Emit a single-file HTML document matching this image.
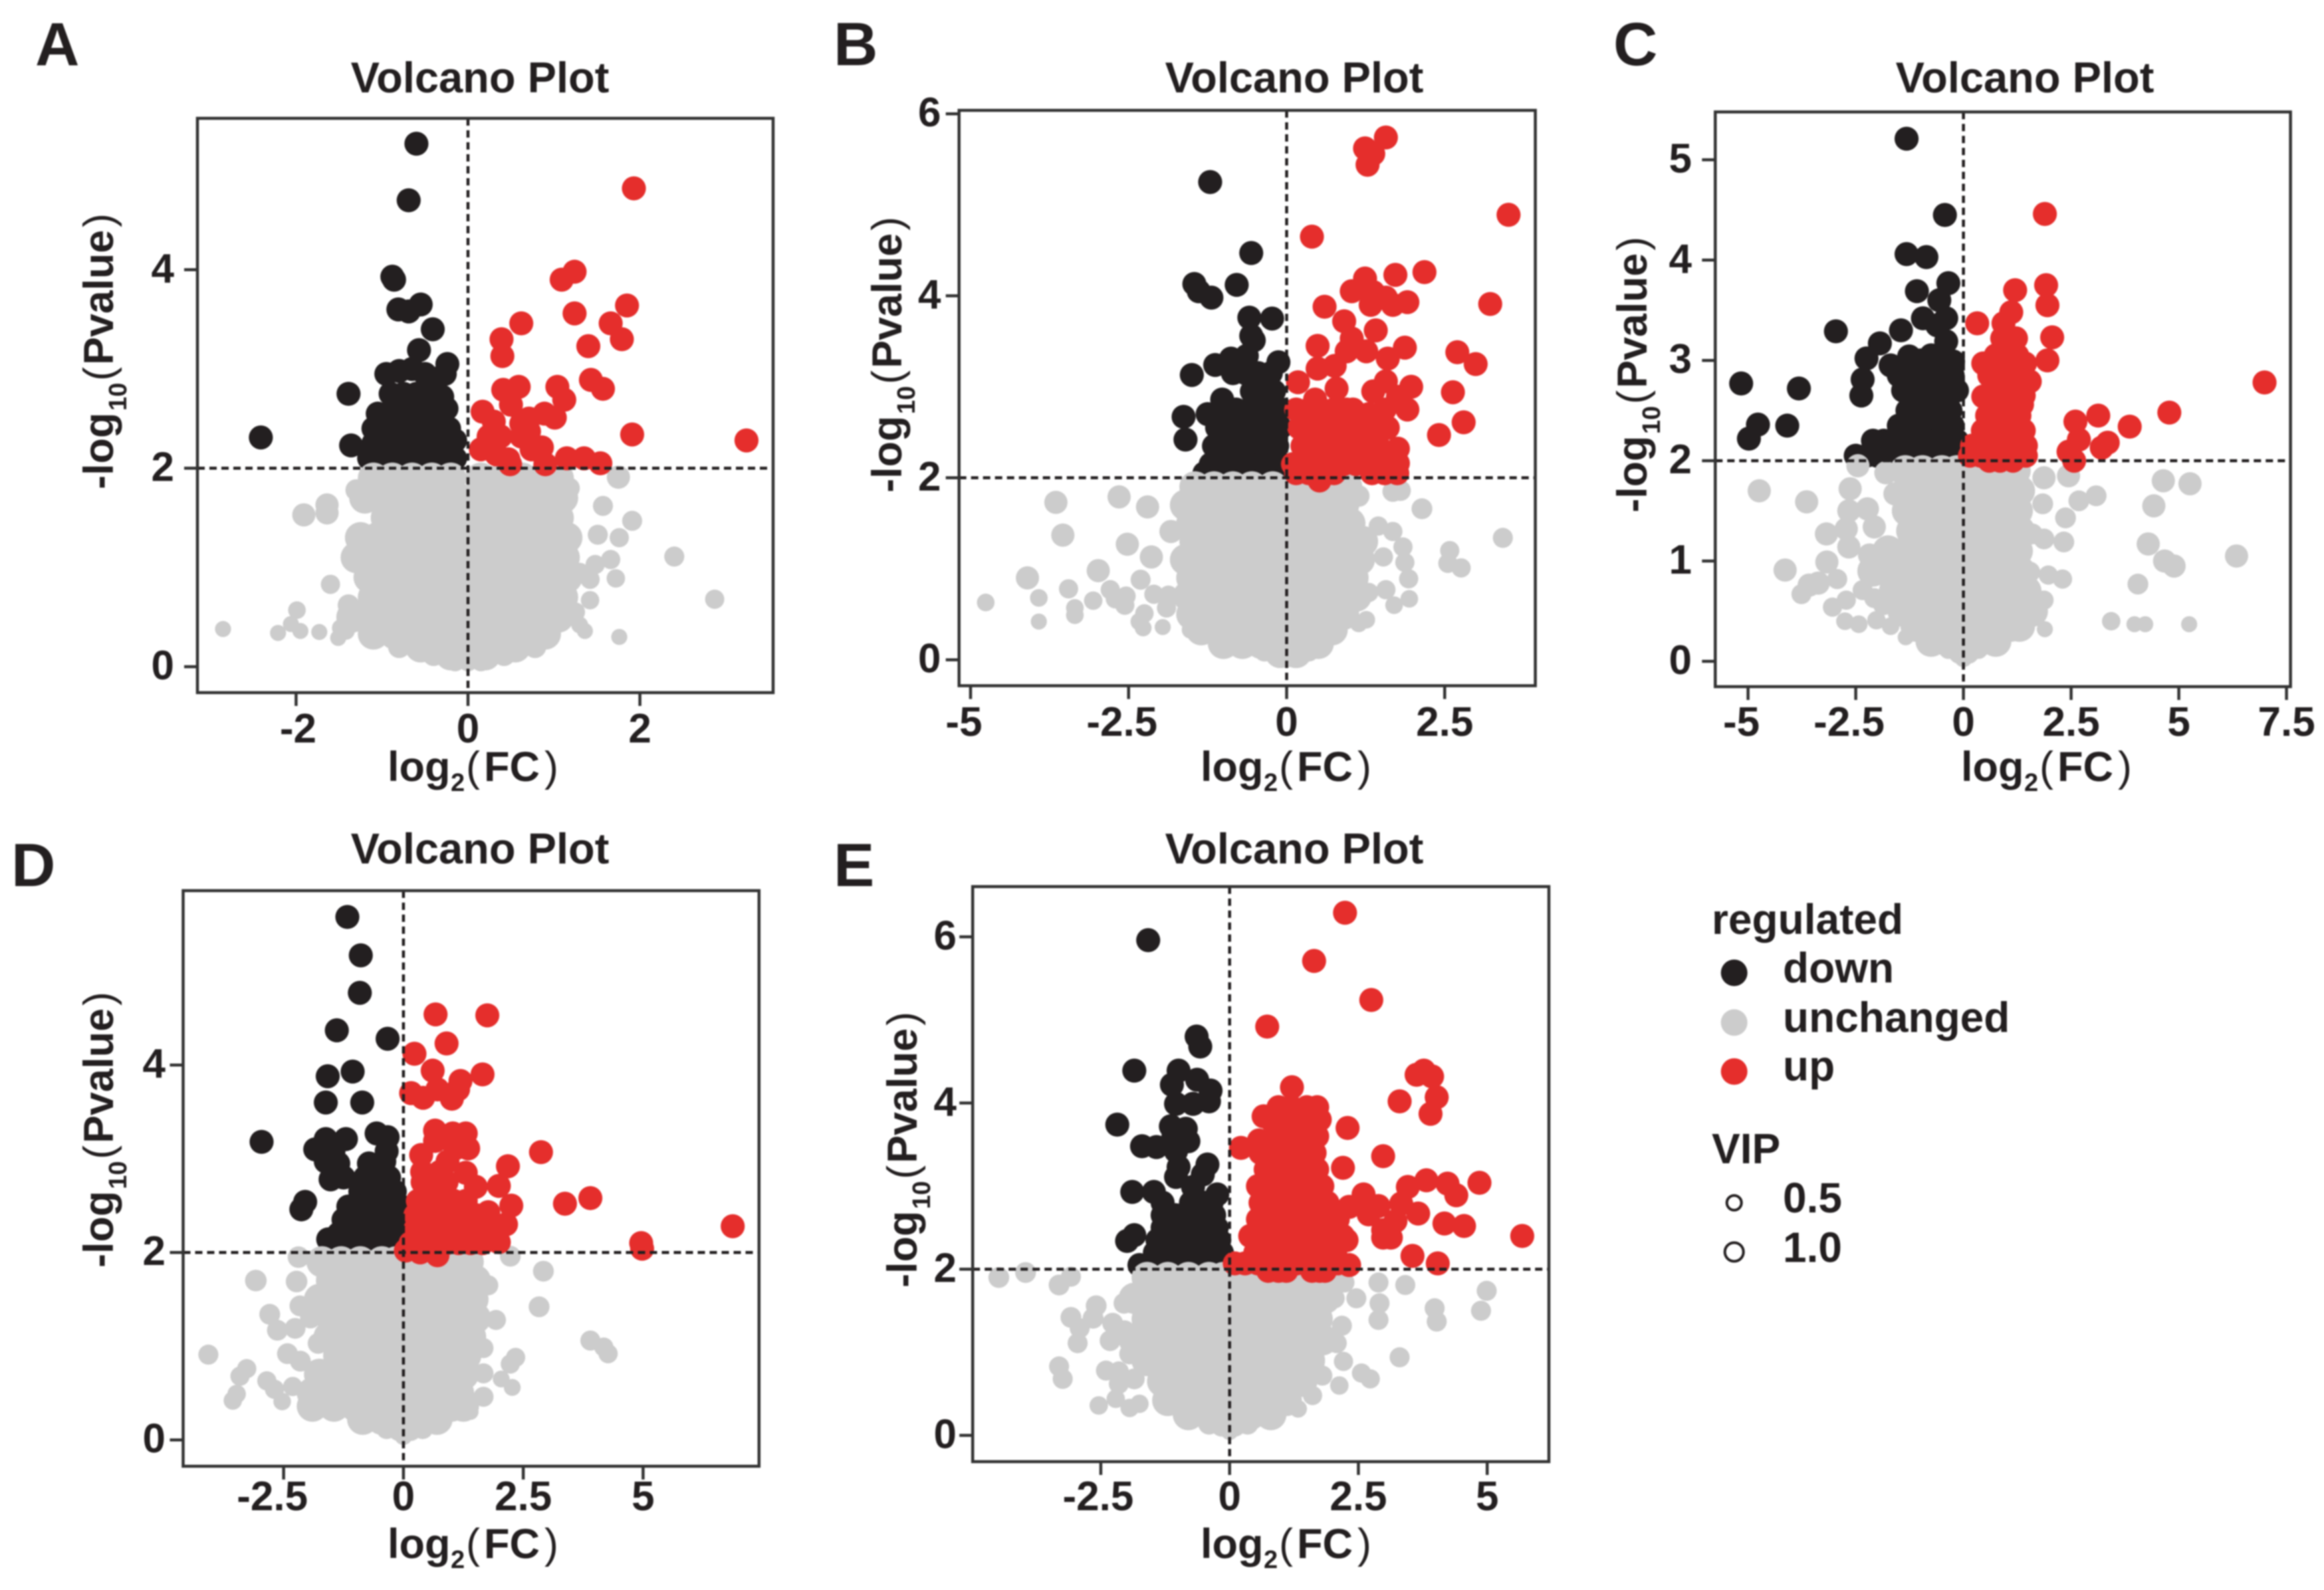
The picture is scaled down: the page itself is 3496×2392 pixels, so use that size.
<!DOCTYPE html>
<html lang="en">
<head>
<meta charset="utf-8">
<title>Volcano Plots</title>
<style>
html,body{margin:0;padding:0;background:#fff;width:3496px;height:2392px;overflow:hidden}
svg{display:block;filter:blur(1px)}
text{font-family:"Liberation Sans",sans-serif;font-weight:700;fill:#231f20}
.title{font-size:65px;text-anchor:middle}
.letter{font-size:92px}
.axt{font-size:63px}
.sub{font-size:38px}
.par{font-weight:400}
.tick{font-size:62px}
.leg{font-size:64px}
</style>
</head>
<body>
<svg id="fig" xmlns="http://www.w3.org/2000/svg" width="3496" height="2392" viewBox="0 0 3496 2392">
<rect width="3496" height="2392" fill="#fff"/>

<g id="panel-a"></g>
<g id="panel-b"></g>
<g id="panel-c"></g>
<g id="panel-d"></g>
<g id="panel-e"></g>

<text class="letter" x="53" y="98">A</text>
<text class="letter" x="1254" y="98">B</text>
<text class="letter" x="2427" y="98">C</text>
<text class="letter" x="17" y="1333">D</text>
<text class="letter" x="1254" y="1333">E</text>

<text class="title" x="722" y="139">Volcano Plot</text>
<text class="title" x="1947" y="139">Volcano Plot</text>
<text class="title" x="3046" y="139">Volcano Plot</text>
<text class="title" x="722" y="1299">Volcano Plot</text>
<text class="title" x="1947" y="1299">Volcano Plot</text>

<g transform="translate(583,1175)"><text class="axt" x="0" y="0">log</text><text class="sub" x="95" y="15">2</text><text class="axt par" x="118" y="0">(</text><text class="axt" x="145" y="0">FC</text><text class="axt par" x="236" y="0">)</text></g>
<g transform="translate(1806,1175)"><text class="axt" x="0" y="0">log</text><text class="sub" x="95" y="15">2</text><text class="axt par" x="118" y="0">(</text><text class="axt" x="145" y="0">FC</text><text class="axt par" x="236" y="0">)</text></g>
<g transform="translate(2950,1175)"><text class="axt" x="0" y="0">log</text><text class="sub" x="95" y="15">2</text><text class="axt par" x="118" y="0">(</text><text class="axt" x="145" y="0">FC</text><text class="axt par" x="236" y="0">)</text></g>
<g transform="translate(583,2344)"><text class="axt" x="0" y="0">log</text><text class="sub" x="95" y="15">2</text><text class="axt par" x="118" y="0">(</text><text class="axt" x="145" y="0">FC</text><text class="axt par" x="236" y="0">)</text></g>
<g transform="translate(1806,2344)"><text class="axt" x="0" y="0">log</text><text class="sub" x="95" y="15">2</text><text class="axt par" x="118" y="0">(</text><text class="axt" x="145" y="0">FC</text><text class="axt par" x="236" y="0">)</text></g>

<g transform="translate(170,736) rotate(-90)"><text class="axt" x="0" y="0">-log</text><text class="sub" x="118" y="20">10</text><text class="axt par" x="163" y="0">(</text><text class="axt" x="187" y="0">Pvalue</text><text class="axt par" x="394" y="0">)</text></g>
<g transform="translate(1356,741) rotate(-90)"><text class="axt" x="0" y="0">-log</text><text class="sub" x="118" y="20">10</text><text class="axt par" x="163" y="0">(</text><text class="axt" x="187" y="0">Pvalue</text><text class="axt par" x="394" y="0">)</text></g>
<g transform="translate(2477,771) rotate(-90)"><text class="axt" x="0" y="0">-log</text><text class="sub" x="118" y="20">10</text><text class="axt par" x="163" y="0">(</text><text class="axt" x="187" y="0">Pvalue</text><text class="axt par" x="394" y="0">)</text></g>
<g transform="translate(170,1907) rotate(-90)"><text class="axt" x="0" y="0">-log</text><text class="sub" x="118" y="20">10</text><text class="axt par" x="163" y="0">(</text><text class="axt" x="187" y="0">Pvalue</text><text class="axt par" x="394" y="0">)</text></g>
<g transform="translate(1379,1937) rotate(-90)"><text class="axt" x="0" y="0">-log</text><text class="sub" x="118" y="20">10</text><text class="axt par" x="163" y="0">(</text><text class="axt" x="187" y="0">Pvalue</text><text class="axt par" x="394" y="0">)</text></g>

<g>
<text class="leg" x="2575" y="1405">regulated</text>
<circle cx="2608.7" cy="1463.5" r="20" fill="#231f20"/>
<text class="leg" x="2682" y="1478">down</text>
<circle cx="2608.7" cy="1538.3" r="20" fill="#cccccc"/>
<text class="leg" x="2682" y="1552.5">unchanged</text>
<circle cx="2608.7" cy="1612" r="20" fill="#e52e2c"/>
<text class="leg" x="2682" y="1625.6">up</text>
<text class="leg" x="2575" y="1750">VIP</text>
<circle cx="2608.7" cy="1809.5" r="11" fill="none" stroke="#231f20" stroke-width="4"/>
<text class="leg" x="2682" y="1824">0.5</text>
<circle cx="2608.7" cy="1883.5" r="14" fill="none" stroke="#231f20" stroke-width="4"/>
<text class="leg" x="2682" y="1898.5">1.0</text>
</g>
</svg>

<script>
// ---- Panel A values: [log2FC, -log10P, optional VIP] ----
const aXTicks=[-2,0,2];
const aYTicks=[0,2,4];
const aDown=[[-.6,5.27],[-.69,4.7],[-.88,3.93],[-.86,3.9],[-.81,3.6],[-.69,3.58],[-.55,3.65],[-.41,3.4],[-.57,3.19],[-.24,3.05],[-.27,2.95],[-1.39,2.75],[-2.41,2.31],[-1.36,2.23],
[-.95,2.95],[-.8,2.98],[-.65,3],[-.5,2.95],[-.4,2.9],[-.9,2.75],[-.75,2.75],[-.6,2.75],[-.45,2.75],[-.3,2.72],
[-1.05,2.55],[-.9,2.55],[-.75,2.55],[-.6,2.55],[-.45,2.55],[-.3,2.55],[-.25,2.6],
[-1.1,2.4],[-.95,2.4],[-.8,2.4],[-.65,2.4],[-.5,2.4],[-.35,2.4],[-.22,2.4],
[-1.1,2.25],[-.95,2.25],[-.8,2.25],[-.65,2.25],[-.5,2.25],[-.35,2.25],[-.15,2.28],
[-1.15,2.1],[-1,2.1],[-.85,2.1],[-.7,2.1],[-.55,2.1],[-.4,2.1],[-.25,2.1],[-.15,2.1]];
const aGrayBody=[[-1.1,1.9],[-.88,1.9],[-.65,1.9],[-.42,1.9],[-.2,1.9],[.15,1.9],[.4,1.9],[.63,1.9],[.86,1.9],[1.05,1.9],
[-1.2,1.7],[-.97,1.7],[-.75,1.7],[-.52,1.7],[-.3,1.7],[-.12,1.7],[.2,1.7],[.5,1.7],[.75,1.7],[.98,1.7],[1.1,1.7],
[-.95,1.5],[-.75,1.5],[-.52,1.5],[-.3,1.5],[-.1,1.5],[.12,1.5],[.35,1.5],[.6,1.5],[.85,1.5],[1.05,1.5],
[-1.25,1.3],[-1.05,1.3],[-.85,1.3],[-.6,1.3],[-.4,1.3],[-.2,1.3],[-.1,1.3],[.15,1.3],[.3,1.3],[.55,1.3],[.8,1.3],[1.05,1.3],[1.15,1.3],
[-1.3,1.1],[-1.1,1.1],[-.9,1.1],[-.65,1.1],[-.42,1.1],[-.2,1.1],[.12,1.1],[.4,1.1],[.65,1.1],[.9,1.1],[1.12,1.1],
[-1.15,.9],[-.95,.9],[-.75,.9],[-.52,.9],[-.3,.9],[-.1,.9],[.12,.9],[.3,.9],[.55,.9],[.8,.9],[1.05,.9],[1.15,.9],
[-1.1,.7],[-.85,.7],[-.6,.7],[-.4,.7],[-.2,.7],[0,.7],[.2,.7],[.45,.7],[.7,.7],[.95,.7],[1.1,.7],
[-1.35,.5],[-1.15,.5],[-.9,.5],[-.7,.5],[-.5,.5],[-.3,.5],[-.1,.5],[.12,.5],[.35,.5],[.6,.5],[.85,.5],[1.05,.5],
[-1.1,.33],[-.85,.33],[-.6,.33],[-.4,.33],[-.2,.33],[0,.33],[.2,.33],[.4,.33],[.65,.33],[.9,.33],
[-.8,.2,1.4],[-.55,.2],[-.3,.2],[-.1,.2],[.1,.2],[.3,.2],[.55,.2],[.78,.2,1.4],[-.4,.12,1.4],[-.2,.12],[0,.12],[.2,.12],[.42,.12,1.4],[-.15,.05,1],[0,.05,1],[.15,.05,1]];
const aGrayOut=[[-1.91,1.53],[-1.64,1.63],[-1.64,1.55],[-1.6,.83,1],[-1.99,.57,.8],[-2.06,.43,.6],[-1.95,.36,.6],[-2.21,.34,.6],[-1.73,.35,.6],[-2.85,.38,.6],[-1.51,.29,.6],[-1.42,.36,.8],[-1.48,.39,.8],[-1.39,.62,1.3],[1.75,1.91],[1.57,1.62,1.1],[1.91,1.47,1.1],[1.51,1.33,1.1],[1.76,1.3,1],[2.4,1.11,1.1],[2.87,.68,1],[1.76,.3,.6],[1.36,.36,.6],[1.72,.89,.9],[1.42,.67,.9],[1.48,1.03,1],[1.66,1.08,1],[1.42,.88,1],[1.18,1.8,1.2],[-1.3,1.78,1.3],[1.3,.95,1],[1.25,.55,1],[1.3,.42,.7]];
const aUp=[[1.93,4.82],[1.24,3.98],[1.09,3.9],[1.85,3.64],[1.24,3.56],[1.66,3.46],[.62,3.46],[1.79,3.3],[.39,3.3],[.4,3.13],[1.4,3.23],[1.43,2.89],[1.57,2.8],[.59,2.82],[.41,2.79],[1.04,2.82],[1.12,2.69],[.5,2.64],[.17,2.57],[.3,2.47],[.89,2.55],[1.01,2.51],[.71,2.5],[1.91,2.34],[3.24,2.28],[.15,2.19],[.24,2.32],[.38,2.32],[.62,2.32],[.71,2.37],[.86,2.21],[.74,2.19],[.33,2.14],[.47,2.09],[.49,2.04],[.9,2.04],[1.15,2.1],[1.35,2.1],[1.54,2.05],[.62,2.45]];

// ---- Panel B values ----
const bXTicks=[-5,-2.5,0,2.5];
const bYTicks=[0,2,4,6];
const bDown=[[-1.21,5.25],[-.56,4.47],[-1.46,4.13],[-1.39,4.05],[-1.19,3.98],[-.79,4.12],[-.59,3.76],[-.23,3.75],[-.56,3.56],[-.52,3.51],[-1.5,3.13],[-1.13,3.24],[-.88,3.31],[-.63,3.34],[-.13,3.27],[-1.63,2.67],[-1.6,2.42],[-1.25,2.7],[-1.02,2.86],
[-.85,3.15],[-.65,3.15],[-.45,3.15],[-.25,3.15],[-.55,2.95],[-.38,2.95],[-.2,2.95],
[-1.05,2.75],[-.8,2.75],[-.6,2.75],[-.4,2.75],[-.2,2.75],[-.08,2.75],
[-1.1,2.55],[-.9,2.55],[-.7,2.55],[-.5,2.55],[-.3,2.55],[-.1,2.55],
[-1.15,2.35],[-.95,2.35],[-.75,2.35],[-.55,2.35],[-.35,2.35],[-.15,2.35],
[-1.2,2.15],[-1,2.15],[-.8,2.15],[-.6,2.15],[-.4,2.15],[-.2,2.15],[-.08,2.15],
[-1.3,2.05],[-1.1,2.05],[-.9,2.05],[-.7,2.05],[-.5,2.05],[-.3,2.05],[-.1,2.05]];
const bGrayBody=[[-1.45,1.9],[-1.15,1.9],[-.85,1.9],[-.55,1.9],[-.22,1.9],[.2,1.9],[.5,1.9],[.8,1.9],[.95,1.9],
[-1.6,1.7],[-1.3,1.7],[-1,1.7],[-.7,1.7],[-.4,1.7],[-.15,1.7],[.15,1.7],[.35,1.7],[.65,1.7],[.9,1.7],
[-1.5,1.5],[-1.2,1.5],[-.85,1.5],[-.55,1.5],[-.25,1.5],[.12,1.5],[.4,1.5],[.7,1.5],[1,1.5],
[-1.45,1.3],[-1.15,1.3],[-.85,1.3],[-.55,1.3],[-.3,1.3],[-.05,1.3],[.25,1.3],[.55,1.3],[.85,1.3],[1.2,1.3],
[-1.6,1.1],[-1.3,1.1],[-1,1.1],[-.7,1.1],[-.4,1.1],[-.1,1.1],[.2,1.1],[.5,1.1],[.8,1.1],[1.15,1.1],
[-1.5,.9],[-1.2,.9],[-.9,.9],[-.6,.9],[-.3,.9],[0,.9],[.3,.9],[.6,.9],[.9,.9],[1.05,.9],
[-1.55,.7],[-1.25,.7],[-.95,.7],[-.65,.7],[-.35,.7],[-.05,.7],[.25,.7],[.55,.7],[.85,.7],[1.1,.7],
[-1.5,.5],[-1.2,.5],[-.9,.5],[-.6,.5],[-.3,.5],[0,.5],[.3,.5],[.6,.5],[.9,.5],
[-1.35,.33],[-1.05,.33],[-.75,.33],[-.45,.33],[-.15,.33],[.15,.33],[.45,.33],[.72,.33],
[-1,.18],[-.7,.18],[-.4,.18],[-.1,.18],[.2,.18],[.5,.18],[-.35,.1,1.3],[-.1,.08],[.15,.08],[.35,.1,1.3],[0,.02,1]];
const bGrayOut=[[-3.65,1.73],[-2.65,1.79],[-2.2,1.68],[-3.54,1.37],[-2.52,1.27],[-1.83,1.41],[-2.14,1.13],[-2.98,.98],[-4.1,.9],[-3.45,.78,1],[-3.92,.68,.8],[-4.76,.63,.8],[-3.92,.42,.6],[-3.06,.65,.9],[-3.35,.57,.8],[-3.35,.49,.8],[-2.79,.77,1],[-2.71,.67,1],[-2.54,.7,1],[-2.56,.6,1],[-2.31,.88,1.1],[-2.1,.72,1],[-2.25,.51,.9],[-2.33,.42,.8],[-2.27,.35,.7],[-1.96,.36,.6],[-1.9,.57,1],[-1.87,.71,1],[-1.52,.33,.8],
[2.14,1.66,1.2],[1.68,1.85,1.2],[1.8,1.86,1.2],[1.14,1.8,1.3],[3.42,1.34,1.1],[2.58,1.2,1],[2.55,1.06,1],[2.76,1.01,1],[1.45,1.47,1],[1.68,1.41,1],[1.84,1.24,1],[1.53,1.13,1],[1.87,1.07,1],[1.93,.89,1],[1.57,.77,1],[1.3,.74,1],[1.7,.6,.8],[1.94,.67,.8],[1.14,.4,.8],[1.26,.44,.8]];
const bUp=[[1.57,5.74],[1.24,5.62],[1.37,5.56],[1.28,5.44],[3.51,4.89],[.4,4.65],[2.18,4.26],[1.72,4.23],[1.24,4.19],[1.03,4.05],[1.37,4.04],[3.22,3.91],[.6,3.88],[1.33,3.9],[1.68,3.9],[1.91,3.93],[1.57,3.98],[.91,3.72],[1.41,3.62],[.49,3.45],[1.03,3.53],[1.87,3.43],[1.26,3.39],[.95,3.39],[2.7,3.38],[2.99,3.25],[1.6,3.31],[.76,3.23],[.49,3.2],[.18,3.05],[2.63,2.94],[1.97,3],[1.57,3.06],[1.37,2.95],[1.76,2.89],[.79,2.98],[.45,2.86],[1.91,2.75],[2.8,2.61],[2.41,2.47],[1.76,2.32],[1.76,2.16],
[.15,2.75],[.35,2.75],[.55,2.75],[.75,2.75],[.95,2.75],[1.05,2.75],[1.3,2.7],[1.55,2.75],
[.2,2.55],[.4,2.55],[.6,2.55],[.8,2.55],[1,2.55],[1.2,2.55],[1.4,2.55],[1.6,2.55],
[.25,2.35],[.45,2.35],[.65,2.35],[.85,2.35],[1.05,2.35],[1.25,2.35],[1.45,2.35],
[.1,2.15],[.3,2.15],[.5,2.15],[.7,2.15],[.9,2.15],[1.1,2.15],[1.3,2.15],[1.5,2.15],[1.7,2.15],
[.15,2.05],[.35,2.05],[.55,2.05],[.75,2.05],[1.35,2.05],[1.55,2.05],[1.75,2.05],[.52,1.97]];

// ---- Panel C values ----
const cXTicks=[-5,-2.5,0,2.5,5,7.5];
const cYTicks=[0,1,2,3,4,5];
const cDown=[[-1.32,5.21],[-.43,4.45],[-1.32,4.06],[-.86,4.03],[-1.08,3.69],[-.35,3.77],[-.56,3.6],[-.4,3.42],[-.94,3.42],[-.61,3.35],[-1.45,3.3],[-2.96,3.29],[-.4,3.19],[-1.94,3.17],[-2.25,3.02],[-1.69,2.95],[-1.26,3.04],[-2.34,2.81],[-2.37,2.65],[-.24,2.99],[-5.16,2.77],[-3.82,2.72],[-4.77,2.36],[-4.98,2.22],[-4.09,2.35],
[-1,3],[-.75,3.05],[-.5,3],[-1.5,2.85],[-1.25,2.85],[-1,2.85],[-.75,2.85],[-.5,2.85],[-.25,2.85],
[-1.4,2.7],[-1.1,2.7],[-.85,2.7],[-.6,2.7],[-.3,2.7],[-.15,2.7],
[-1.3,2.5],[-1.05,2.5],[-.8,2.52],[-.55,2.5],[-.3,2.5],
[-1.5,2.35],[-1.25,2.35],[-1,2.35],[-.75,2.35],[-.5,2.35],[-.25,2.35],
[-2.1,2.2],[-1.85,2.2],[-1.6,2.2],[-1.35,2.2],[-1.1,2.2],[-.85,2.2],[-.6,2.2],[-.35,2.2],[-.15,2.2],
[-2.5,2.05],[-2.25,2.05],[-2,2.05],[-1.7,2.05],[-1.45,2.05],[-1.2,2.05],[-.95,2.05],[-.7,2.05],[-.45,2.05],[-.2,2.05]];
const cGrayBody=[[-1.35,1.9],[-.95,1.9],[-.5,1.9],[-.15,1.9],[.15,1.9],[.5,1.9],[.95,1.9],[1.2,1.9],
[-1.15,1.7],[-.75,1.7],[-.35,1.7],[.2,1.7],[.6,1.7],[1,1.7],[1.3,1.7],
[-1.3,1.5],[-.95,1.5],[-.5,1.5],[-.15,1.5],[.15,1.5],[.5,1.5],[.95,1.5],[1.25,1.5],
[-1.2,1.3],[-.8,1.3],[-.35,1.3],[.15,1.3],[.6,1.3],[1.05,1.3],[1.3,1.3],
[-1.75,1.1],[-1.3,1.1],[-.9,1.1],[-.45,1.1],[-.1,1.1],[.2,1.1],[.6,1.1],[1.05,1.1],[1.25,1.1],
[-2.1,.9],[-1.7,.9],[-1.25,.9],[-.85,.9],[-.4,.9],[0,.9],[.45,.9],[.9,.9],[1.3,.9],
[-1.6,.7],[-1.2,.7],[-.8,.7],[-.35,.7],[.1,.7],[.55,.7],[1,.7],[1.45,.7],
[-1.4,.5],[-1,.5],[-.55,.5],[-.1,.5],[.3,.5],[.75,.5],[1.2,.5],[1.6,.5],
[-1.1,.35],[-.7,.35],[-.25,.35],[.15,.35],[.6,.35],[1.1,.35],[1.3,.35],
[-.75,.2],[-.35,.2],[0,.2],[.35,.2],[.75,.2],[-.35,.12,1],[-.1,.08,1.2],[.12,.08,1.2],[.35,.12,1],[0,.03,.8]];
const cGrayOut=[[-4.74,1.7],[-3.64,1.59],[-3.18,1.27],[-4.14,.91],[-3.17,.99],[-3.37,.78],[-3.58,.76],[-3.76,.67,1.1],[-2.93,.82,1.1],[-3.04,.54,1],[-2.72,.61,1],[-2.75,.4,.8],[-2.43,.37,.8],[-2.02,.41,.9],[-1.69,.35,.8],[-1.34,.24,.6],[-2.34,.71,1.1],[-1.86,.56,1.1],[-2.07,.63,1.1],[-2.45,1.95],[-2.63,1.72],[-2.66,1.5],[-2.72,1.32],[-2.66,1.14],[-2.23,1.52],[-2.18,1.06],[-1.96,1.04],[-2.07,1.34],[-1.8,1.88],[-1.59,1.67],
[2.44,1.85],[1.87,1.83],[1.84,1.57,1.2],[2.68,1.6,1.2],[3.08,1.65,1.2],[2.37,1.43,1.2],[2.33,1.19,1.2],[1.87,1.22,1.2],[4.64,1.8],[5.26,1.77],[4.42,1.55],[4.29,1.17],[4.67,1],[4.89,.95],[6.34,1.05],[4.05,.77,1.2],[3.43,.4,.9],[3.97,.37,.6],[4.22,.37,.6],[5.24,.37,.6],[2.3,.82,1],[1.97,.86,1],[1.87,.61,1],[1.89,.32,.6],[.9,.2,.6],[1.54,.89,1.2],[1.6,1.27,1.2],[1.33,1.55,1.2]];
const cUp=[[1.89,4.46],[1.92,3.75],[1.2,3.7],[1.95,3.55],[1.11,3.48],[.32,3.37],[.93,3.37],[2.06,3.23],[1.22,3.22],[.9,3.22],[1.95,3],[.46,2.97],[1.43,2.97],[1.54,2.79],[6.99,2.78],[.46,2.64],[1.36,2.56],[4.78,2.48],[3.13,2.45],[2.6,2.39],[3.86,2.34],[2.68,2.21],[3.35,2.18],[3.21,2.13],[2.44,2.09],[2.57,2],
[.75,3.05],[1,3.05],[1.25,3.05],[.6,2.85],[.85,2.85],[1.1,2.85],[1.35,2.85],[.65,2.65],[.9,2.65],[1.15,2.65],[1.4,2.65],[.55,2.45],[.8,2.45],[1.05,2.45],[1.3,2.45],
[.45,2.3],[.7,2.3],[.95,2.3],[1.2,2.3],[1.4,2.3],[.2,2.15],[.45,2.15],[.7,2.15],[.95,2.15],[1.25,2.15],[1.45,2.15],[.15,2.05],[.4,2.05],[.65,2.05],[.85,2.05],[1.1,2.05],[1.45,2.05],[.6,2],[.85,2],[1.15,2]];

// ---- Panel D values ----
const dXTicks=[-2.5,0,2.5,5];
const dYTicks=[0,2,4];
const dDown=[[-1.17,5.58],[-.89,5.17],[-.91,4.77],[-1.39,4.37],[-.33,4.28],[-1.06,3.93],[-1.58,3.88],[-.86,3.6],[-1.62,3.6],[-2.96,3.18],[-.56,3.27],[-.33,3.23],[-1.2,3.21],[-1.62,3.21],[-1.84,3.1],[-1.46,3.08],[-.35,3.08],[-2.05,2.54],[-2.13,2.46],[-1.57,2.14],
[-1.52,2.78],[-1.62,2.97],[-1.36,2.95],[-.72,2.95],[-.4,2.97],[-1.5,2.8],[-1.25,2.8],[-.8,2.8],[-.55,2.8],[-.3,2.8],
[-.9,2.65],[-.65,2.65],[-.4,2.65],[-.18,2.65],[-1,2.5],[-.75,2.5],[-.5,2.5],[-.25,2.5],[-.08,2.5],[-1.15,2.49],
[-1.25,2.35],[-1,2.35],[-.75,2.35],[-.5,2.35],[-.25,2.35],[-.08,2.35],
[-1.35,2.2],[-1.1,2.2],[-.85,2.2],[-.6,2.2],[-.35,2.2],[-.1,2.2],
[-1.5,2.05],[-1.25,2.05],[-1,2.05],[-.75,2.05],[-.5,2.05],[-.25,2.05]];
const dGrayBody=[[-1.7,1.9],[-1.3,1.9],[-.9,1.9],[-.45,1.9],[-.15,1.9],[.15,1.9],[.5,1.9],[.95,1.9],[1.35,1.9],
[-1.5,1.7],[-1.1,1.7],[-.65,1.7],[-.25,1.7],[.15,1.7],[.6,1.7],[1.05,1.7],[1.5,1.7],
[-1.75,1.5],[-1.3,1.5],[-.85,1.5],[-.45,1.5],[-.15,1.5],[.2,1.5],[.65,1.5],[1.1,1.5],[1.45,1.5],
[-1.5,1.3],[-1.05,1.3],[-.65,1.3],[-.2,1.3],[.15,1.3],[.6,1.3],[1.05,1.3],[1.5,1.3],
[-1.55,1.1],[-1.1,1.1],[-.7,1.1],[-.25,1.1],[.15,1.1],[.6,1.1],[1.05,1.1],[1.4,1.1],
[-1.35,.9],[-.9,.9],[-.45,.9],[0,.9],[.45,.9],[.9,.9],[1.3,.9],
[-1.75,.7],[-1.3,.7],[-.9,.7],[-.45,.7],[0,.7],[.45,.7],[.9,.7],[1.25,.7],
[-1.9,.5],[-1.5,.5],[-1.05,.5],[-.6,.5],[-.2,.5],[.25,.5],[.7,.5],[1.15,.5],
[-1.9,.36],[-1.45,.36],[-1,.36],[-.6,.36],[-.2,.36],[.2,.36],[.6,.36],[1,.36],[1.25,.36],
[-.85,.22],[-.45,.22],[-.1,.22],[.3,.22],[.7,.22],[-.35,.12,1.2],[-.1,.1,1.2],[.15,.1,1.2],[.4,.12,1.2],[0,.04,.8]];
const dGrayOut=[[-3.08,1.7,1.3],[-2.23,1.69,1.3],[-2.19,1.95,1.3],[-4.07,.91,1.1],[2.23,1.96,1.2],[2.92,1.8,1.2],[2.83,1.42,1.2],[3.9,1.06,1.1],[4.18,.99,1],[4.27,.92,1],[2.34,.88,1],[2.23,.81,1],[2.27,.56,.7],[1.77,1.65,1.1],[1.93,1.28,1.1],[1.67,.98,1.1],[1.67,.71,1.1],[2.04,.65,.7],[1.67,.46,1.1],[1.4,.3,.6],[-3.27,.76,1],[-3.41,.68,1],[-3.48,.49,.9],[-3.56,.42,.9],[-2.85,.63,1],[-2.69,.54,1],[-2.53,.41,.8],[-2.42,.92,1.2],[-2.15,.84,1.2],[-2.02,.36,.9],[-2.79,1.34,1.2],[-2.63,1.17,1.2],[-2.26,1.19,1.2],[-2.16,1.43,1.2],[-1.94,1.3,1.2],[-1.78,1.03,1.2],[-2.31,.57,1],[-1.94,.54,1.1]];
const dUp=[[.67,4.54],[1.75,4.53],[.9,4.23],[.23,4.12],[.61,3.94],[1.65,3.9],[1.19,3.83],[1.14,3.74],[.71,3.74],[.16,3.7],[.41,3.65],[1.01,3.64],[.66,3.3],[1.03,3.27],[1.3,3.27],[.66,3.19],[1.35,3.11],[1.08,3.11],[.37,3.04],[2.87,3.07],[2.18,2.92],[.39,2.86],[.76,2.86],[1.3,2.85],[.92,2.97],[1.51,2.7],[1.99,2.71],[3.9,2.58],[3.37,2.52],[2.25,2.5],[1.77,2.43],[2.14,2.3],[6.87,2.28],[4.96,2.1],[4.98,2.04],[1.99,2.11],
[.4,2.75],[.65,2.75],[.9,2.75],[.3,2.55],[.55,2.55],[.8,2.55],[1.05,2.55],[1.3,2.55],
[.25,2.4],[.5,2.4],[.75,2.4],[1,2.4],[1.25,2.4],[1.5,2.4],
[.25,2.25],[.5,2.25],[.75,2.25],[1,2.25],[1.25,2.25],[1.5,2.25],[1.75,2.25],
[.15,2.1],[.4,2.1],[.65,2.1],[.9,2.1],[1.15,2.1],[1.4,2.1],[1.65,2.1],[.05,2.02],[.35,2],[.71,1.97]];

// ---- Panel E values ----
const eXTicks=[-2.5,0,2.5,5];
const eYTicks=[0,2,4,6];
const eDown=[[-1.58,5.96],[-.64,4.8],[-.57,4.68],[-1.85,4.39],[-.99,4.39],[-.63,4.28],[-1.12,4.22],[-.37,4.15],[-1.04,3.99],[-.71,3.99],[-.4,4.02],[-2.18,3.74],[-1.14,3.72],[-.85,3.69],[-1.09,3.6],[-.8,3.54],[-1.7,3.48],[-1.42,3.47],[-1.04,3.42],[-.43,3.26],[-.99,3.23],[-.52,3.14],[-1.04,3.11],[-1.89,2.93],[-1.47,2.93],[-.24,2.9],[-.71,2.99],[-1.85,2.41],[-1.99,2.34],
[-1.3,2.8],[-.75,2.8],[-.5,2.8],[-.35,2.8],[-1.3,2.65],[-1.05,2.65],[-.8,2.65],[-.55,2.65],[-.3,2.65],
[-1.3,2.5],[-1.05,2.5],[-.8,2.5],[-.55,2.5],[-.25,2.5],[-1.4,2.35],[-1.15,2.35],[-.9,2.35],[-.65,2.35],[-.4,2.35],[-.2,2.35],
[-1.45,2.2],[-1.1,2.2],[-.85,2.2],[-.6,2.2],[-.35,2.2],[-.15,2.2],
[-1.75,2.05],[-1.5,2.05],[-1.25,2.05],[-1,2.05],[-.75,2.05],[-.5,2.05],[-.25,2.05],[-.08,2.05]];
const eGrayBody=[[-1.6,1.9],[-1.2,1.9],[-.8,1.9],[-.4,1.9],[-.12,1.9],[.15,1.9],[.5,1.9],[.9,1.9],[1.3,1.9],[1.7,1.9],[2.05,1.9],
[-1.85,1.65],[-1.4,1.65],[-1,1.65],[-.6,1.65],[-.2,1.65],[.15,1.65],[.7,1.65],[1.1,1.65],[1.5,1.65],[1.85,1.65],
[-1.6,1.4],[-1.2,1.4],[-.8,1.4],[-.4,1.4],[-.12,1.4],[.15,1.4],[.5,1.4],[.9,1.4],[1.3,1.4],[1.7,1.4],
[-1.85,1.15],[-1.4,1.15],[-1,1.15],[-.6,1.15],[-.2,1.15],[.15,1.15],[.7,1.15],[1.1,1.15],[1.5,1.15],[1.8,1.15],
[-1.6,.9],[-1.2,.9],[-.8,.9],[-.4,.9],[0,.9],[.4,.9],[.8,.9],[1.2,.9],[1.55,.9],
[-1.3,.65],[-1,.65],[-.6,.65],[-.2,.65],[.2,.65],[.6,.65],[1,.65],[1.4,.65],
[-1.2,.42],[-.8,.42],[-.4,.42],[0,.42],[.4,.42],[.8,.42],[1.1,.42],
[-.8,.25],[-.4,.25],[0,.25],[.4,.25],[.8,.25],[-.4,.14,1.3],[-.15,.12,1.4],[.1,.12,1.4],[.35,.14,1.3],[0,.05,.8]];
const eGrayOut=[[-4.48,1.9,1.2],[-3.96,1.96,1.2],[-3.31,1.81,1.2],[-3.08,1.91,1.1],[-2.59,1.56,1.2],[-3.08,1.42,1.2],[-2.65,1.41,1.2],[-2.95,1.11,1.1],[-2.91,1.29,1.1],[-2.32,1.14,1.2],[-3.31,.83,1.1],[-3.24,.68,1.1],[-2.4,.78,1.1],[-2.15,.77,1.1],[-2.15,.62,1.1],[-2.54,.36,.9],[-2.21,.44,.9],[-1.94,.33,.9],[-1.75,.38,.9],[-1.85,.68,1.2],[-2.05,1.59,1.2],[-2.27,1.35,1.2],[-2.04,1.26,1.2],[-1.75,1.59,1.2],[-1.94,.98,1.2],
[2.89,1.84,1.1],[3.41,1.81,1.1],[2.46,1.65,1.1],[2.91,1.59,1.1],[2.89,1.39,1.1],[4.99,1.74,1.1],[4.88,1.5,1.1],[3.98,1.53,1.1],[4.02,1.37,1.1],[3.3,.94,1.1],[2.18,1.32,1.1],[2.08,1.11,1.1],[2.21,.89,1],[2.56,.75,1],[2.73,.68,1],[2.13,.6,.9],[1.8,.72,1.1],[1.61,.48,1],[1.33,.32,.8],[2.04,1.65,1.1],[2.23,1.84,1.1]];
const eUp=[[2.24,6.29],[1.64,5.71],[2.75,5.24],[.73,4.92],[1.21,4.19],[3.77,4.39],[3.63,4.34],[3.93,4.32],[3.3,4.02],[4.02,4.07],[3.9,3.87],[2.29,3.7],[.22,3.46],[2.98,3.36],[2.2,3.22],[.57,3.55],[.66,3.84],[4.85,3.04],[4.23,3.03],[3.82,3.07],[3.46,2.99],[4.4,2.89],[3.33,2.79],[2.6,2.9],[2.89,2.76],[3.66,2.67],[2.7,2.66],[2.32,2.75],[3.22,2.58],[2.98,2.47],[4.17,2.55],[4.55,2.52],[3.13,2.38],[2.98,2.38],[5.68,2.4],[3.55,2.16],[4.04,2.07],[2.32,2.05],[2.27,2.35],
[.95,3.95],[1.2,3.95],[1.5,3.95],[1.7,3.95],[.8,3.8],[1.05,3.8],[1.3,3.8],[1.6,3.8],[1.75,3.8],
[.9,3.6],[1.15,3.6],[1.4,3.6],[1.7,3.6],[.6,3.4],[.85,3.4],[1.1,3.4],[1.35,3.4],[1.65,3.4],
[.7,3.2],[.95,3.2],[1.2,3.2],[1.45,3.2],[1.7,3.2],[.55,3],[.8,3],[1.05,3],[1.3,3],[1.55,3],[1.8,3],
[.6,2.8],[.85,2.8],[1.1,2.8],[1.35,2.8],[1.6,2.8],[1.9,2.8],
[.55,2.6],[.8,2.6],[1.05,2.6],[1.3,2.6],[1.55,2.6],[1.85,2.6],[2.1,2.6],
[.4,2.4],[.65,2.4],[.9,2.4],[1.15,2.4],[1.4,2.4],[1.65,2.4],[1.95,2.4],[2.2,2.4],
[.5,2.2],[.75,2.2],[1,2.2],[1.25,2.2],[1.55,2.2],[1.8,2.2],[2.05,2.2],
[.1,2.07],[.3,2.07],[.55,2.07],[.8,2.07],[1.05,2.07],[1.3,2.07],[1.6,2.07],[1.85,2.07],[2.1,2.07],
[.75,1.98],[.95,1.98],[1.1,1.98],[1.6,1.98],[1.75,1.98],[1.85,1.98]];

// ---- Layout and drawing ----
const NS='http://www.w3.org/2000/svg';
const INK='#333333';
const layouts=[
 {id:'a',left:297,right:1163,top:178,bottom:1042,zeroX:704,unitX:129.3,zeroY:1003,unitY:149.3,xLabelY:1117,yLabelX:262,xNudge:3,xTicks:aXTicks,yTicks:aYTicks,down:aDown,body:aGrayBody,out:aGrayOut,up:aUp},
 {id:'b',left:1442.7,right:2309.6,top:166,bottom:1031.6,zeroX:1935.5,unitX:95.1,zeroY:992.6,unitY:136.9,xLabelY:1107,yLabelX:1415.5,xNudge:-10,xTicks:bXTicks,yTicks:bYTicks,down:bDown,body:bGrayBody,out:bGrayOut,up:bUp},
 {id:'c',left:2580.3,right:3445.6,top:168.4,bottom:1033,zeroX:2953.6,unitX:64.8,zeroY:994.9,unitY:150.9,xLabelY:1107,yLabelX:2545,xNudge:-10,xTicks:cXTicks,yTicks:cYTicks,down:cDown,body:cGrayBody,out:cGrayOut,up:cUp},
 {id:'d',left:275.5,right:1141.8,top:1339.9,bottom:2205.8,zeroX:606.9,unitX:72.1,zeroY:2166.2,unitY:141,xLabelY:2272,yLabelX:249,xNudge:-17,xTicks:dXTicks,yTicks:dYTicks,down:dDown,body:dGrayBody,out:dGrayOut,up:dUp},
 {id:'e',left:1463.2,right:2330,top:1333.8,bottom:2198.9,zeroX:1849.7,unitX:77.5,zeroY:2159.4,unitY:125,xLabelY:2272,yLabelX:1439,xNudge:-4,xTicks:eXTicks,yTicks:eYTicks,down:eDown,body:eGrayBody,out:eGrayOut,up:eUp}
];
function vipRadius(v){return 8.5+6*v;}
function make(tag,attrs,parent){
  const el=document.createElementNS(NS,tag);
  for(const k in attrs)el.setAttribute(k,attrs[k]);
  parent.appendChild(el);
  return el;
}
function drawPoints(group,pts,sx,sy,fill,defaultVip,name,clip){
  pts.forEach(function(p){
    const c=make('circle',{cx:sx(p[0]),cy:sy(p[1]),r:vipRadius(p.length>2?p[2]:defaultVip),fill:fill,'clip-path':clip},group);
    
    
  });
}
layouts.forEach(function(L){
  const g=document.getElementById('panel-'+L.id);
  const sx=function(v){return L.zeroX+v*L.unitX;};
  const sy=function(v){return L.zeroY-v*L.unitY;};
  const clipId='clip-'+L.id;
  const cp=make('clipPath',{id:clipId},g);
  make('rect',{x:L.left,y:L.top,width:L.right-L.left,height:L.bottom-L.top},cp);
  const clip='url(#'+clipId+')';
  drawPoints(g,L.down,sx,sy,'#231f20',1.6,'point-down',clip);
  drawPoints(g,L.body,sx,sy,'#cccccc',2.5,'point-unchanged',clip);
  drawPoints(g,L.out,sx,sy,'#cccccc',1.5,'point-unchanged',clip);
  drawPoints(g,L.up,sx,sy,'#e52e2c',1.6,'point-up',clip);
  const hl=make('line',{x1:L.left,x2:L.right,y1:sy(2),y2:sy(2),stroke:'#231f20','stroke-width':4.5,'stroke-dasharray':'11 7'},g);
  
  
  const vl=make('line',{x1:sx(0),x2:sx(0),y1:L.top,y2:L.bottom,stroke:'#231f20','stroke-width':4.5,'stroke-dasharray':'11 7'},g);
  
  
  const fr=make('rect',{x:L.left,y:L.top,width:L.right-L.left,height:L.bottom-L.top,fill:'none',stroke:INK,'stroke-width':4.5},g);
  
  
  L.xTicks.forEach(function(v){
    const t=make('line',{x1:sx(v),x2:sx(v),y1:L.bottom,y2:L.bottom+20,stroke:INK,'stroke-width':4.5},g);
    
    
    const lb=make('text',{x:sx(v)+(v<0?L.xNudge:0),y:L.xLabelY,'class':'tick','text-anchor':'middle'},g);
    lb.textContent=String(v);
    
    
  });
  L.yTicks.forEach(function(v){
    const t=make('line',{x1:L.left-20,x2:L.left,y1:sy(v),y2:sy(v),stroke:INK,'stroke-width':4.5},g);
    
    
    const lb=make('text',{x:L.yLabelX,y:sy(v)+19,'class':'tick','text-anchor':'end'},g);
    lb.textContent=String(v);
    
    
  });
});
</script>
</body>
</html>
